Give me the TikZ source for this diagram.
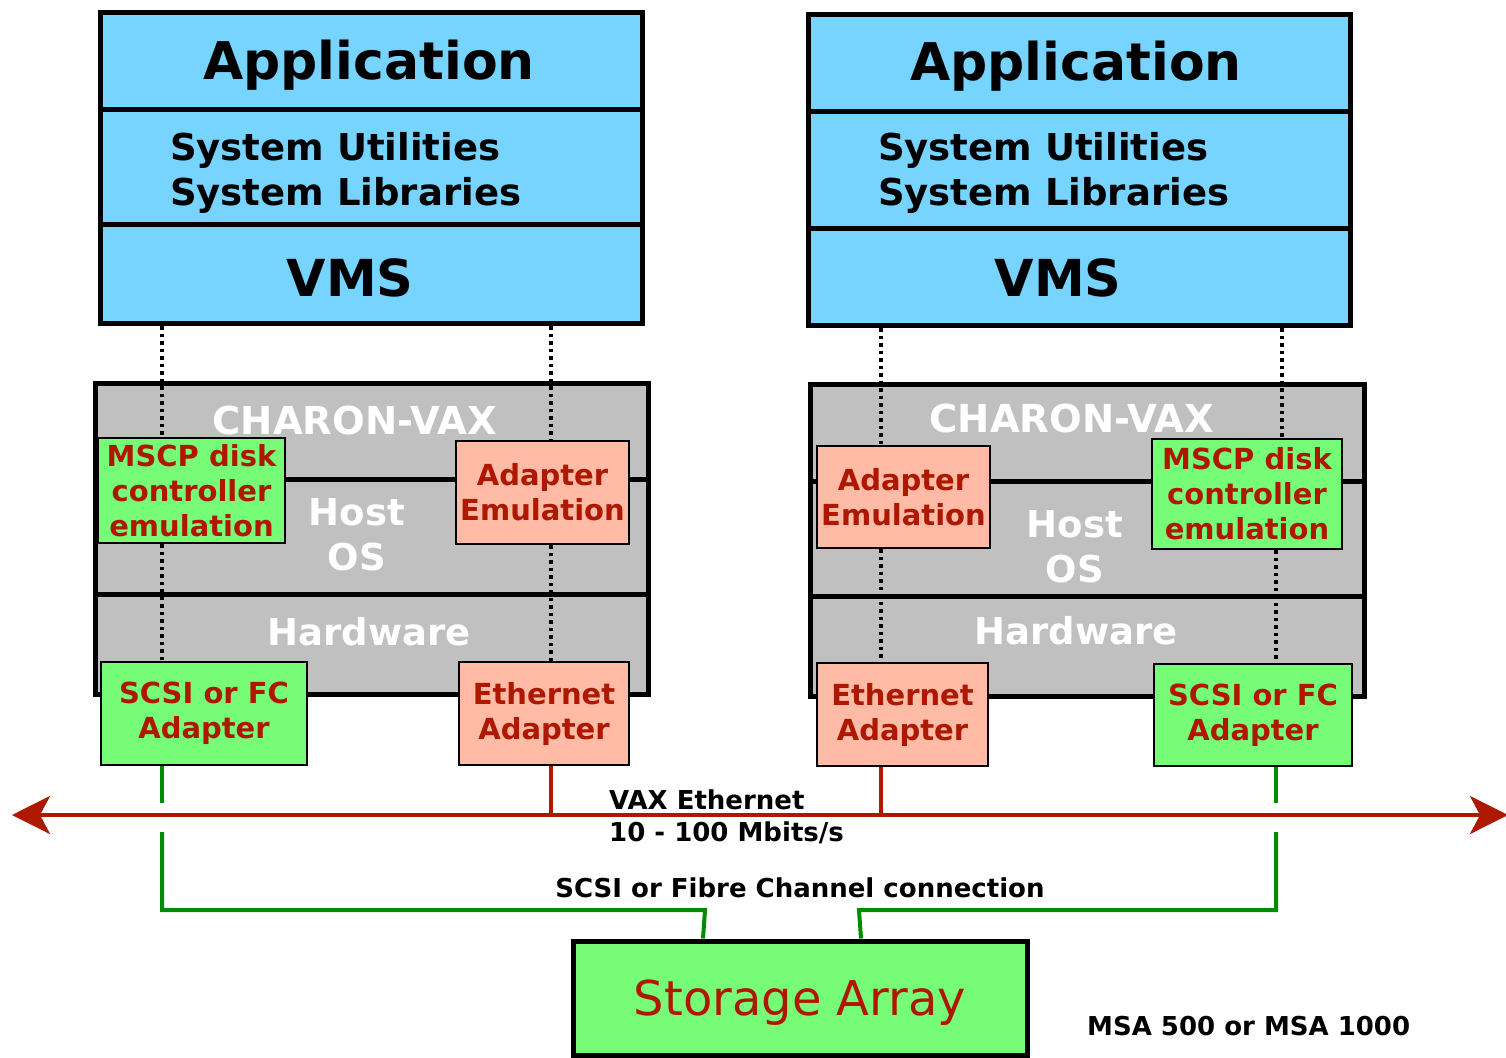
\documentclass[tikz,border=0pt]{standalone}
\usepackage{fontspec}
\setmainfont{DejaVu Sans}
\usetikzlibrary{arrows.meta,positioning}
\definecolor{vmsblue}{HTML}{77D4FF}
\definecolor{hostgray}{HTML}{C0C0C0}
\definecolor{emugreen}{HTML}{77FC77}
\definecolor{emusalmon}{HTML}{FFBBA6}
\definecolor{labelred}{HTML}{AE1800}
\definecolor{fcgreen}{HTML}{008C00}
\newcommand{\fsz}[2]{\fontsize{#1}{#2}\selectfont}
\begin{document}
\begin{tikzpicture}[x = 1pt, y = -1pt,
  stack/.style = {draw, line width = 5pt, inner sep = 0pt, anchor = north west},
  emubox/.style = {draw, line width = 2.5pt, inner sep = 0pt, align = center, text = labelred, font = \fsz{29}{35}\bfseries},
  title/.style = {inner sep = 0pt, font = \fsz{52}{60}\bfseries},
  libs/.style = {inner sep = 0pt, anchor = base west, font = \fsz{37}{45}\bfseries},
  host/.style = {inner sep = 0pt, align = center, text = white, font = \fsz{37}{45}\bfseries},
  note/.style = {inner sep = 0pt, font = \fsz{26}{32}\bfseries},
  dots/.style = {line width = 3.5pt, dash pattern = on 3.5pt off 4pt},
  bus/.style = {draw = labelred, line width = 4pt, >={Stealth[length = 38pt, width = 38pt, inset = 10pt]}},
  tap/.style = {draw = labelred, line width = 3.5pt},
  fc/.style = {draw = fcgreen, line width = 4pt}]
  \useasboundingbox (0,0) rectangle (1506,1057);

  \node[stack, fill = vmsblue, minimum width = 542, minimum height = 97] (appL) at (98,10) {};
  \node[stack, fill = vmsblue, minimum width = 542, minimum height = 115] (sysL) at (98,107) {};
  \node[stack, fill = vmsblue, minimum width = 542, minimum height = 99] (vmsL) at (98,222) {};
  \node[stack, fill = vmsblue, minimum width = 542, minimum height = 97] (appR) at (806,12) {};
  \node[stack, fill = vmsblue, minimum width = 542, minimum height = 117] (sysR) at (806,109) {};
  \node[stack, fill = vmsblue, minimum width = 542, minimum height = 97] (vmsR) at (806,226) {};

  \node[title, anchor = base] (appLtxt) at (369,79) {Application};
  \node[libs] (utilL) at (170,160) {System Utilities};
  \node[libs] (libL) at (170,205) {System Libraries};
  \node[title, anchor = base, font = \fsz{51}{60}\bfseries] (vmsLtxt) at (350,296) {VMS};
  \node[title, anchor = base] (appRtxt) at (1076,81) {Application};
  \node[libs] (utilR) at (878,160) {System Utilities};
  \node[libs] (libR) at (878,205) {System Libraries};
  \node[title, anchor = base, font = \fsz{51}{60}\bfseries] (vmsRtxt) at (1058,296) {VMS};

  \node[stack, fill = hostgray, minimum width = 553, minimum height = 96] (charonL) at (93,381) {};
  \node[stack, fill = hostgray, minimum width = 553, minimum height = 115] (hostL) at (93,477) {};
  \node[stack, fill = hostgray, minimum width = 553, minimum height = 100] (hwL) at (93,592) {};
  \node[stack, fill = hostgray, minimum width = 554, minimum height = 97] (charonR) at (808,382) {};
  \node[stack, fill = hostgray, minimum width = 554, minimum height = 115] (hostR) at (808,479) {};
  \node[stack, fill = hostgray, minimum width = 554, minimum height = 100] (hwR) at (808,594) {};

  \node[host, anchor = base, font = \fsz{38.5}{45}\bfseries] (charonLtxt) at (355,434) {CHARON-VAX};
  \node[host] (hostLtxt) at (357,535) {Host\\OS};
  \node[host, anchor = base] (hwLtxt) at (369,645) {Hardware};
  \node[host, anchor = base, font = \fsz{38.5}{45}\bfseries] (charonRtxt) at (1072,432) {CHARON-VAX};
  \node[host] (hostRtxt) at (1075,547) {Host\\OS};
  \node[host, anchor = base] (hwRtxt) at (1076,644) {Hardware};

  \node[emubox, fill = emugreen, minimum width = 187, minimum height = 105] (mscpL) at (191.5,490.5) {MSCP disk\\controller\\emulation};
  \node[emubox, fill = emusalmon, minimum width = 173, minimum height = 103] (adaptL) at (542.5,492.5) {Adapter\\Emulation};
  \node[emubox, fill = emugreen, minimum width = 206, minimum height = 103] (scsiL) at (204,713.5) {SCSI or FC\\Adapter};
  \node[emubox, fill = emusalmon, minimum width = 170, minimum height = 103] (ethL) at (544,713.5) {Ethernet\\Adapter};
  \node[emubox, fill = emusalmon, minimum width = 173, minimum height = 102] (adaptR) at (903.5,497) {Adapter\\Emulation};
  \node[emubox, fill = emugreen, minimum width = 190, minimum height = 110] (mscpR) at (1247,494) {MSCP disk\\controller\\emulation};
  \node[emubox, fill = emusalmon, minimum width = 171, minimum height = 103] (ethR) at (902.5,714.5) {Ethernet\\Adapter};
  \node[emubox, fill = emugreen, minimum width = 198, minimum height = 102] (scsiR) at (1253,715) {SCSI or FC\\Adapter};

  \node[draw, line width = 5pt, fill = emugreen, inner sep = 0pt, minimum width = 454, minimum height = 114, text depth = 0pt, text = labelred, font = \fsz{48}{58}] (storage) at (800,998) {Storage Array};

  \coordinate (tapA) at (162,0);
  \coordinate (tapB) at (551,0);
  \coordinate (tapC) at (881,0);
  \coordinate (tapD) at (1282,0);
  \coordinate (tapE) at (1276,0);
  \coordinate (busW) at (12,815);
  \coordinate (busE) at (1508,815);
  \coordinate (gapTop) at (0,803);
  \coordinate (gapBot) at (0,832);
  \coordinate (fcInL) at (705,910);
  \coordinate (fcInR) at (859,910);
  \coordinate (fcOutL) at (703,0);
  \coordinate (fcOutR) at (861,0);

  \draw[dots] (vmsL.south -| tapA) -- (mscpL.north -| tapA);
  \draw[dots] (mscpL.south -| tapA) -- (scsiL.north -| tapA);
  \draw[dots] (vmsL.south -| tapB) -- (adaptL.north -| tapB);
  \draw[dots] (adaptL.south -| tapB) -- (ethL.north -| tapB);
  \draw[dots] (vmsR.south -| tapC) -- (adaptR.north -| tapC);
  \draw[dots] (adaptR.south -| tapC) -- (ethR.north -| tapC);
  \draw[dots] (vmsR.south -| tapD) -- (mscpR.north -| tapD);
  \draw[dots] (mscpR.south -| tapE) -- (scsiR.north -| tapE);

  \draw[bus, <->] (busW) -- (busE);
  \draw[tap] (ethL.south -| tapB) -- (busW -| tapB);
  \draw[tap] (ethR.south -| tapC) -- (busW -| tapC);

  \draw[fc] (scsiL.south -| tapA) -- (tapA |- gapTop);
  \draw[fc] (tapA |- gapBot) -- (tapA |- fcInL) -- (fcInL) -- (storage.north -| fcOutL);
  \draw[fc] (scsiR.south -| tapE) -- (tapE |- gapTop);
  \draw[fc] (tapE |- gapBot) -- (tapE |- fcInR) -- (fcInR) -- (storage.north -| fcOutR);

  \node[note, anchor = base west] (vaxLbl) at (609,809) {VAX Ethernet};
  \node[note, anchor = base west] (rateLbl) at (609,841) {10 - 100 Mbits/s};
  \node[note, anchor = base] (fcLbl) at (800,897) {SCSI or Fibre Channel connection};
  \node[note, anchor = base west] (msaLbl) at (1087,1035) {MSA 500 or MSA 1000};
\end{tikzpicture}
\end{document}
